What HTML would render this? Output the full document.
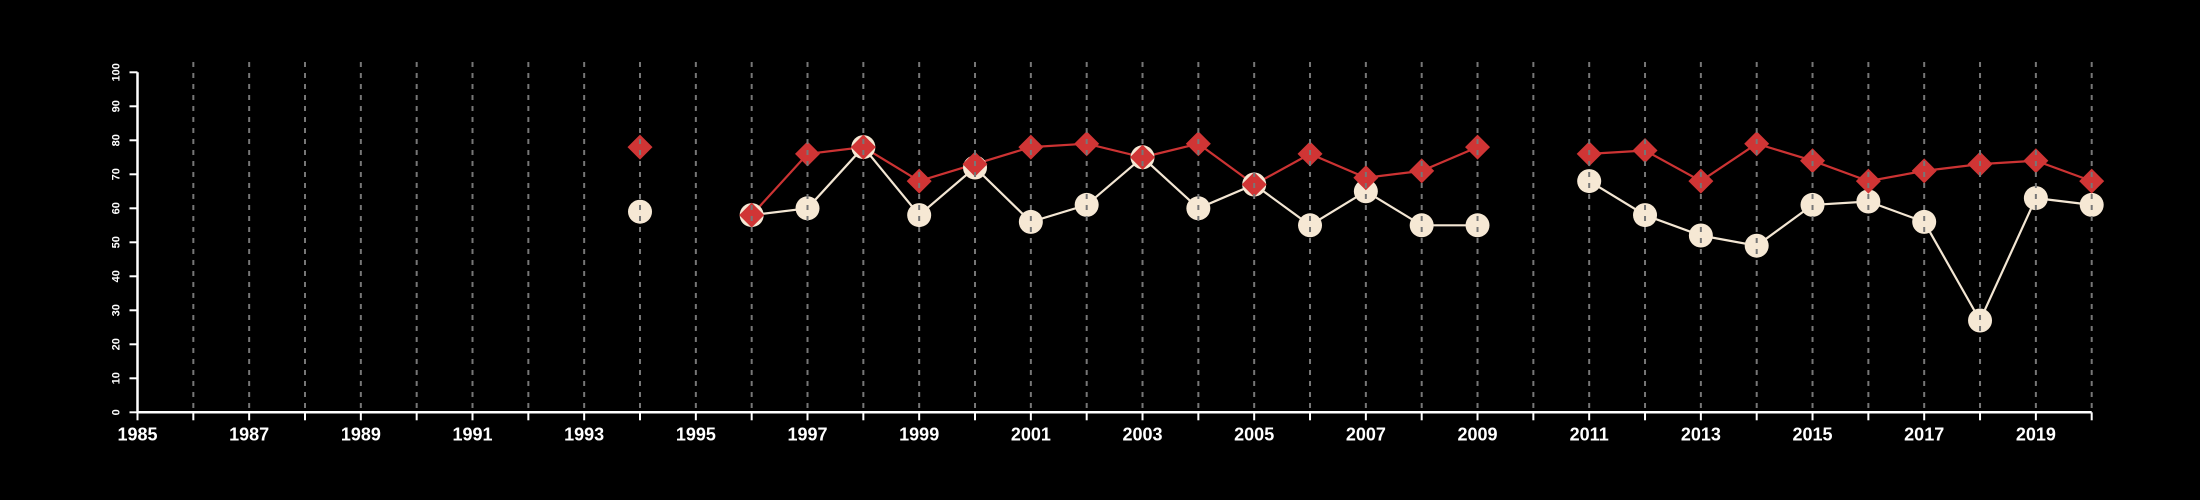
<!DOCTYPE html>
<html><head><meta charset="utf-8"><style>
html,body{margin:0;padding:0;background:#000;}
svg{display:block;font-family:"Liberation Sans",Arial,sans-serif;}
</style></head><body>
<svg id="chart" width="2200" height="500" viewBox="0 0 2200 500">
<rect width="2200" height="500" fill="#000"/>
<g id="lines"></g><g id="marks"></g><g id="grid"></g><g id="axes"></g>
</svg>
<script>
const years = [1994,1995,1996,1997,1998,1999,2000,2001,2002,2003,2004,2005,2006,2007,2008,2009,2010,2011,2012,2013,2014,2015,2016,2017,2018,2019,2020];
const redValues = [78,null,58,76,78,68,73,78,79,75,79,67,76,69,71,78,null,76,77,68,79,74,68,71,73,74,68];
const whiteValues = [59,null,58,60,78,58,72,56,61,75,60,67,55,65,55,55,null,68,58,52,49,61,62,56,27,63,61];
const yTicks = [0,10,20,30,40,50,60,70,80,90,100];
const xLabels = [1985,1987,1989,1991,1993,1995,1997,1999,2001,2003,2005,2007,2009,2011,2013,2015,2017,2019];

const NS='http://www.w3.org/2000/svg';
const X0=137.5,X1=2091.7,Y0=412.3,Y1=72.3;
function x(v){return X0+(v-1985)*(X1-X0)/35;}
function y(v){return Y0-(v)*(Y0-Y1)/100;}
function mk(tag,attrs,parent){const e=document.createElementNS(NS,tag);for(const k in attrs)e.setAttribute(k,attrs[k]);document.getElementById(parent).appendChild(e);return e;}

function drawSeries(vals,color,name){
  let seg=[];
  const flush=()=>{if(seg.length>1){const p=mk('polyline',{points:seg.join(' '),fill:'none',stroke:color,'stroke-width':2.2},'lines');
    
    }seg=[];};
  vals.forEach((v,i)=>{if(v==null){flush();return;}seg.push(x(years[i])+','+y(v));});
  flush();
}
drawSeries(redValues,'#cc3333','red-series');
drawSeries(whiteValues,'#f3e6d3','white-series');

whiteValues.forEach((v,i)=>{if(v==null)return;
  const c=mk('circle',{cx:x(years[i]),cy:y(v),r:12,fill:'#f6e8d4'},'marks');
  
  
});
redValues.forEach((v,i)=>{if(v==null)return;
  const cx=x(years[i]),cy=y(v),d=12.5;
  const p=mk('polygon',{points:`${cx},${cy-d} ${cx+d},${cy} ${cx},${cy+d} ${cx-d},${cy}`,fill:'#d03535'},'marks');
  
  
});

for(let yr=1986;yr<=2020;yr++){
  const g=mk('line',{x1:x(yr),x2:x(yr),y1:62,y2:Y0,stroke:'#777','stroke-width':2,'stroke-dasharray':'5,6'},'grid');
  
  
}

const xa=mk('line',{x1:X0,x2:X1,y1:Y0,y2:Y0,stroke:'#fff','stroke-width':2.5},'axes');


const ya=mk('line',{x1:X0,x2:X0,y1:Y0,y2:Y1,stroke:'#fff','stroke-width':2.5},'axes');


for(let yr=1985;yr<=2020;yr++){
  const t=mk('line',{x1:x(yr),x2:x(yr),y1:Y0,y2:Y0+8,stroke:'#fff','stroke-width':2},'axes');
  
  
}
xLabels.forEach(v=>{
  const t=mk('text',{x:x(v),y:Y0+28,fill:'#fff','font-size':18,'font-weight':'bold','text-anchor':'middle'},'axes');
  t.textContent=v;
  
  
});
yTicks.forEach(v=>{
  const t=mk('line',{x1:X0-8,x2:X0,y1:y(v),y2:y(v),stroke:'#fff','stroke-width':2},'axes');
  
  
  const l=mk('text',{x:0,y:0,fill:'#fff','font-size':11,'font-weight':'bold','text-anchor':'middle',transform:`translate(${X0-18},${y(v)}) rotate(-90)`},'axes');
  l.textContent=v;
  
  
});
</script>
</body></html>
